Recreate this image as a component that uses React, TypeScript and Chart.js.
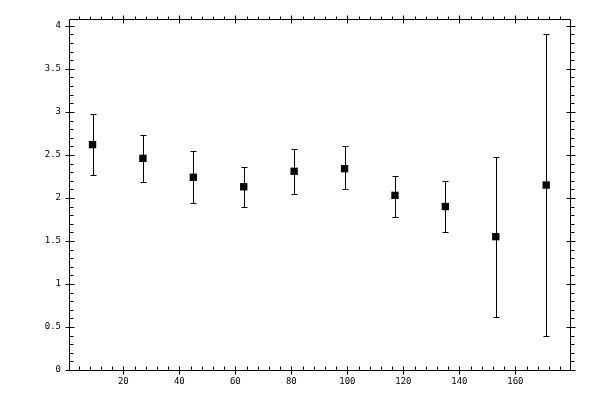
import { useEffect, useRef } from 'react';
import { Chart, registerables } from 'chart.js';

Chart.register(...registerables);

// bin centres and the mean / error range
const binCentres = [9, 27, 45, 63, 81, 99, 117, 135, 153, 171];
const means = [2.62, 2.46, 2.24, 2.13, 2.31, 2.34, 2.03, 1.9, 1.55, 2.15];
const upperErr = [2.97, 2.73, 2.55, 2.36, 2.57, 2.6, 2.26, 2.2, 2.48, 3.9];
const lowerErr = [2.27, 2.19, 1.94, 1.89, 2.05, 2.1, 1.78, 1.6, 0.62, 0.4];

const xTickLabels = [20, 40, 60, 80, 100, 120, 140, 160];
const yTickLabels = [0, 0.5, 1, 1.5, 2, 2.5, 3, 3.5, 4];
const xMinorStep = 4;
const yMinorStep = 0.1;

const crisp = (v: number) => Math.round(v) + 0.5;

// error bars under the markers
const errorBars = {
	id: 'errorBars',
	beforeDatasetsDraw(chart: any) {
		const { ctx, scales } = chart;
		ctx.save();
		ctx.strokeStyle = '#000';
		ctx.lineWidth = 1;
		binCentres.forEach((x, i) => {
			const px = crisp(scales.x.getPixelForValue(x));
			const top = crisp(scales.y.getPixelForValue(upperErr[i]));
			const bot = crisp(scales.y.getPixelForValue(lowerErr[i]));
			ctx.beginPath();
			ctx.moveTo(px, top);
			ctx.lineTo(px, bot);
			ctx.moveTo(px - 3, top);
			ctx.lineTo(px + 3, top);
			ctx.moveTo(px - 3, bot);
			ctx.lineTo(px + 3, bot);
			ctx.stroke();
		});
		ctx.restore();
	},
};

// box frame with major and minor ticks on all four sides
const frame = {
	id: 'frame',
	afterDraw(chart: any) {
		const { ctx, chartArea, scales } = chart;
		const l = crisp(chartArea.left);
		const r = crisp(chartArea.right);
		const t = crisp(chartArea.top);
		const b = crisp(chartArea.bottom);
		ctx.save();
		ctx.strokeStyle = '#000';
		ctx.lineWidth = 1;
		ctx.beginPath();
		ctx.rect(l, t, r - l, b - t);

		const xMin = scales.x.min;
		const xMax = scales.x.max;
		for (let v = xMinorStep; v < xMax; v += xMinorStep) {
			if (v <= xMin) continue;
			const px = crisp(scales.x.getPixelForValue(v));
			if (v % 20 === 0) {
				ctx.moveTo(px, b - 4);
				ctx.lineTo(px, b + 4);
				ctx.moveTo(px, t - 4);
				ctx.lineTo(px, t + 4);
			} else {
				ctx.moveTo(px, b - 4);
				ctx.lineTo(px, b);
				ctx.moveTo(px, t - 3);
				ctx.lineTo(px, t);
			}
		}

		const yMax = scales.y.max;
		for (let k = 0; k * yMinorStep <= yMax + 1e-9; k++) {
			const v = k * yMinorStep;
			const py = crisp(scales.y.getPixelForValue(v));
			if (k % 5 === 0) {
				ctx.moveTo(l - 4, py);
				ctx.lineTo(l + 5, py);
				ctx.moveTo(r - 4, py);
				ctx.lineTo(r + 5, py);
			} else {
				ctx.moveTo(l, py);
				ctx.lineTo(l + 4, py);
				ctx.moveTo(r, py);
				ctx.lineTo(r + 4, py);
			}
		}
		ctx.stroke();
		ctx.restore();
	},
};

export default function App() {
	const canvasRef = useRef<HTMLCanvasElement | null>(null);
	const chartRef = useRef<Chart | null>(null);

	useEffect(() => {
		const ctx = canvasRef.current?.getContext('2d');
		if (chartRef.current) {
			chartRef.current.destroy();
		}
		if (ctx) {
			const tickFont = { family: 'DejaVu Sans Mono', size: 9 };
			chartRef.current = new Chart(ctx, {
				type: 'scatter',
				data: {
					datasets: [
						{
							data: binCentres.map((x, i) => ({ x, y: means[i] })),
							pointStyle: 'rect',
							pointRadius: 5.2,
							pointBorderWidth: 0,
							backgroundColor: '#000',
							borderColor: '#000',
						},
					],
				},
				options: {
					responsive: false,
					animation: false,
					layout: { padding: { top: 19, right: 30, left: 0, bottom: 0 } },
					plugins: {
						legend: { display: false },
						tooltip: { enabled: false },
					},
					scales: {
						x: {
							type: 'linear',
							min: 0.6,
							max: 179.5,
							grid: { display: false, drawTicks: false },
							border: { display: false },
							afterBuildTicks: (scale: any) => {
								scale.ticks = xTickLabels.map((value) => ({ value }));
							},
							afterFit: (scale: any) => {
								scale.height = 30;
							},
							ticks: {
								color: '#000',
								font: tickFont,
								padding: 6,
								maxRotation: 0,
								callback: (v: any) => String(v),
							},
						},
						y: {
							type: 'linear',
							min: 0,
							max: 4.08,
							grid: { display: false, drawTicks: false },
							border: { display: false },
							afterBuildTicks: (scale: any) => {
								scale.ticks = yTickLabels.map((value) => ({ value }));
							},
							afterFit: (scale: any) => {
								scale.width = 69;
							},
							ticks: {
								color: '#000',
								font: tickFont,
								padding: 8,
								callback: (v: any) => String(v),
							},
						},
					},
				},
				plugins: [errorBars, frame],
			});
		}
		return () => {
			if (chartRef.current) {
				chartRef.current.destroy();
				chartRef.current = null;
			}
		};
	}, []);

	return (
		<div style={{ position: 'absolute', left: 0, top: 0, width: 600, height: 400, background: '#fff' }}>
			<canvas width={600} height={400} ref={canvasRef}></canvas>
		</div>
	);
}
